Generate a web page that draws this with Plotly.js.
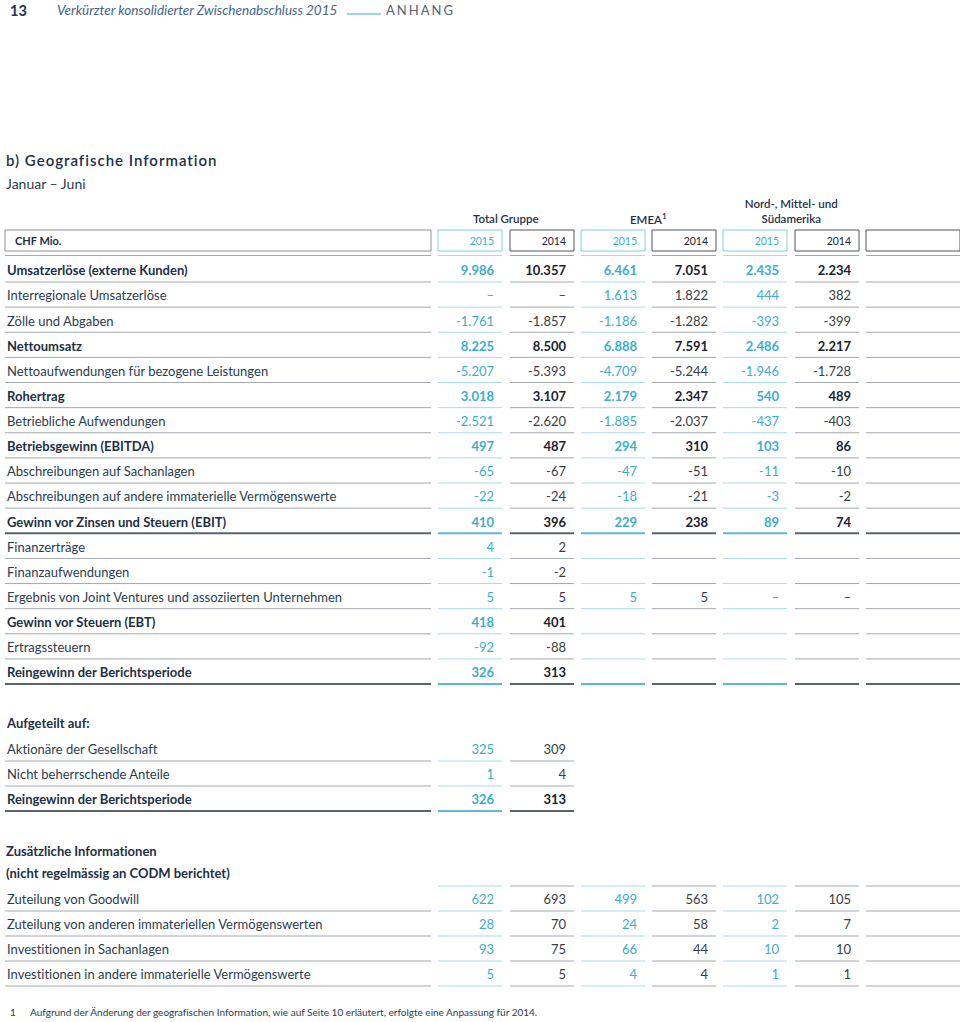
<!DOCTYPE html>
<html><head><meta charset="utf-8">
<script src="https://cdn.plot.ly/plotly-3.0.1.min.js"></script>
<style>html,body{margin:0;padding:0;background:#fff;} #chart{width:960px;height:1022px;}
.main-svg text{font-variant-ligatures:none;font-feature-settings:"liga" 0,"clig" 0;}</style>
</head><body><div id="chart"></div>
<script>
// ---------------- DATA ----------------
const yearLabels = ["2015", "2014", "2015", "2014", "2015", "2014"];
const groupLabels = ["Total Gruppe", "EMEA<sup>1</sup>", "Nord-, Mittel- und<br>Südamerika"];

const labelsMain = [
  "Umsatzerlöse (externe Kunden)", "Interregionale Umsatzerlöse", "Zölle und Abgaben", "Nettoumsatz",
  "Nettoaufwendungen für bezogene Leistungen", "Rohertrag", "Betriebliche Aufwendungen",
  "Betriebsgewinn (EBITDA)", "Abschreibungen auf Sachanlagen",
  "Abschreibungen auf andere immaterielle Vermögenswerte", "Gewinn vor Zinsen und Steuern (EBIT)",
  "Finanzerträge", "Finanzaufwendungen", "Ergebnis von Joint Ventures und assoziierten Unternehmen",
  "Gewinn vor Steuern (EBT)", "Ertragssteuern", "Reingewinn der Berichtsperiode"
];
const boldMain = [1, 0, 0, 1, 0, 1, 0, 1, 0, 0, 1, 0, 0, 0, 1, 0, 1];
const total2015 = [9986, 0, -1761, 8225, -5207, 3018, -2521, 497, -65, -22, 410, 4, -1, 5, 418, -92, 326];
const total2014 = [10357, 0, -1857, 8500, -5393, 3107, -2620, 487, -67, -24, 396, 2, -2, 5, 401, -88, 313];
const emea2015 = [6461, 1613, -1186, 6888, -4709, 2179, -1885, 294, -47, -18, 229, null, null, 5, null, null, null];
const emea2014 = [7051, 1822, -1282, 7591, -5244, 2347, -2037, 310, -51, -21, 238, null, null, 5, null, null, null];
const amer2015 = [2435, 444, -393, 2486, -1946, 540, -437, 103, -11, -3, 89, null, null, 0, null, null, null];
const amer2014 = [2234, 382, -399, 2217, -1728, 489, -403, 86, -10, -2, 74, null, null, 0, null, null, null];

const labelsAlloc = ["Aktionäre der Gesellschaft", "Nicht beherrschende Anteile", "Reingewinn der Berichtsperiode"];
const boldAlloc = [0, 0, 1];
const alloc2015 = [325, 1, 326];
const alloc2014 = [309, 4, 313];

const labelsAdd = [
  "Zuteilung von Goodwill", "Zuteilung von anderen immateriellen Vermögenswerten",
  "Investitionen in Sachanlagen", "Investitionen in andere immaterielle Vermögenswerte"
];
const boldAdd = [0, 0, 0, 0];
const addTotal2015 = [622, 28, 93, 5];
const addTotal2014 = [693, 70, 75, 5];
const addEmea2015 = [499, 24, 66, 4];
const addEmea2014 = [563, 58, 44, 4];
const addAmer2015 = [102, 2, 10, 1];
const addAmer2014 = [105, 7, 10, 1];

// ---------------- STYLE / LAYOUT CONSTANTS ----------------
const FONT = "Lato, 'Open Sans', sans-serif";
const NAVY = "#1e2f46", NAVY_R = "#2c3c50";
const CYAN = "#3aaecd";
const DARK_B = "#1a2331", DARK_R = "#3a3e44";
const RULE_CYAN = "#a9dae6", RULE_GRAY = "#a3a8ad";
const THICK_CYAN = "#5cbad4", THICK_GRAY = "#5b646e";
const COL_LEFT = [438, 510, 581, 652, 723, 795, 866];
const COL_W = 64;
const LAST_RIGHT = 960;
const LABEL_L = 5, LABEL_R = 431;
const PAD = 8;
const TEXT_DY = 2;
const thickRows = ["Gewinn vor Zinsen und Steuern (EBIT)", "Reingewinn der Berichtsperiode"];

const colRight = c => (c === 6 ? LAST_RIGHT : COL_LEFT[c] + COL_W);
const isCyanCol = c => c < 6 && c % 2 === 0;

function fmt(v) {
  if (v === null || v === undefined) return "";
  if (v === 0) return "–";
  const s = Math.abs(v).toString().replace(/\B(?=(\d{3})+(?!\d))/g, ".");
  return (v < 0 ? "-" : "") + s;
}

const traces = [];
const shapes = [];
const annotations = [];

function addText(xs, ys, texts, color, size, weight, pos) {
  if (!xs.length) return;
  traces.push({
    type: "scatter", mode: "text", x: xs, y: ys.map(y => y + TEXT_DY), text: texts,
    textposition: pos, cliponaxis: false, hoverinfo: "skip", showlegend: false,
    textfont: { family: FONT, size: size, color: color, weight: weight }
  });
}
function hline(x0, x1, y, color, width) {
  shapes.push({ type: "line", xref: "x", yref: "y", x0: x0, x1: x1, y0: y, y1: y,
    line: { color: color, width: width } });
}
function rect(x0, x1, y0, y1, color) {
  shapes.push({ type: "rect", xref: "x", yref: "y", x0: x0, x1: x1, y0: y0, y1: y1,
    line: { color: color, width: 1 }, fillcolor: "rgba(0,0,0,0)" });
}
function ann(x, y, text, size, color, weight, xanchor, extra) {
  annotations.push(Object.assign({ xref: "x", yref: "y", x: x, y: y, text: text, showarrow: false,
    xanchor: xanchor || "left", yanchor: "middle", borderpad: 0,
    font: { family: FONT, size: size, color: color, weight: weight || "normal" } }, extra || {}));
}

function buildSection(labels, bold, cols, y0, pitch, nRuleCols, topRule) {
  const ys = labels.map((_, i) => y0 + i * pitch);
  [0, 1].forEach(b => {
    const idx = labels.map((_, i) => i).filter(i => bold[i] === b);
    addText(idx.map(() => LABEL_L + 2), idx.map(i => ys[i]), idx.map(i => labels[i]),
      b ? NAVY : NAVY_R, 13, b ? "bold" : "normal", "middle right");
  });
  cols.forEach((vals, c) => {
    [0, 1].forEach(b => {
      const idx = vals.map((_, i) => i).filter(i => bold[i] === b && vals[i] !== null);
      const color = isCyanCol(c) ? CYAN : (b ? DARK_B : DARK_R);
      addText(idx.map(() => colRight(c) - PAD), idx.map(i => ys[i]), idx.map(i => fmt(vals[i])),
        color, 13, b ? "bold" : "normal", "middle left");
    });
  });
  ys.forEach((y, i) => {
    const thick = thickRows.includes(labels[i]);
    hline(LABEL_L, LABEL_R, y + 12, thick ? THICK_GRAY : RULE_GRAY, thick ? 2 : 1);
    for (let c = 0; c < nRuleCols; c++) {
      const col = isCyanCol(c) ? (thick ? THICK_CYAN : RULE_CYAN) : (thick ? THICK_GRAY : RULE_GRAY);
      hline(COL_LEFT[c], colRight(c), y + 12, col, thick ? 2 : 1);
    }
  });
  if (topRule) {
    for (let c = 0; c < nRuleCols; c++) {
      hline(COL_LEFT[c], colRight(c), ys[0] - 13, isCyanCol(c) ? RULE_CYAN : RULE_GRAY, 1);
    }
  }
}

// Header row (boxes)
const HEAD_Y = 240.5;
rect(LABEL_L, LABEL_R, 230, 251, "#8b9299");
hline(LABEL_L, LABEL_R, 255.5, RULE_GRAY, 1);
for (let c = 0; c < 7; c++) {
  rect(COL_LEFT[c], colRight(c), 230, 251, isCyanCol(c) ? "#84cadc" : "#4f5760");
  hline(COL_LEFT[c], colRight(c), 255.5, isCyanCol(c) ? RULE_CYAN : RULE_GRAY, 1);
}
const evenC = yearLabels.map((_, c) => c).filter(c => c % 2 === 0);
const oddC = yearLabels.map((_, c) => c).filter(c => c % 2 === 1);
addText(evenC.map(c => colRight(c) - PAD), evenC.map(() => HEAD_Y), evenC.map(c => yearLabels[c]),
  CYAN, 10.5, "normal", "middle left");
addText(oddC.map(c => colRight(c) - PAD), oddC.map(() => HEAD_Y), oddC.map(c => yearLabels[c]),
  DARK_B, 10.5, "normal", "middle left");
ann(14, HEAD_Y, "CHF Mio.", 11, NAVY, "bold");

ann((COL_LEFT[0] + colRight(1)) / 2, 218, groupLabels[0], 11.5, NAVY, "600", "center");
ann((COL_LEFT[2] + colRight(3)) / 2, 218, groupLabels[1], 11.5, NAVY, "600", "center");
ann((COL_LEFT[4] + colRight(5)) / 2, 210.5, groupLabels[2], 11.5, NAVY, "600", "center");

buildSection(labelsMain, boldMain, [total2015, total2014, emea2015, emea2014, amer2015, amer2014], 270, 25.13, 7, false);

ann(LABEL_L, 723, "Aufgeteilt auf:", 13, NAVY, "bold");
buildSection(labelsAlloc, boldAlloc, [alloc2015, alloc2014], 749, 25, 2, false);

ann(LABEL_L, 851, "Zusätzliche Informationen", 13, NAVY, "bold");
ann(LABEL_L, 873, "(nicht regelmässig an CODM berichtet)", 13, NAVY, "bold");
buildSection(labelsAdd, boldAdd, [addTotal2015, addTotal2014, addEmea2015, addEmea2014, addAmer2015, addAmer2014], 899, 25, 7, true);

// Page header & titles
ann(9, 10, "13", 14.5, "#1c3452", "bold");
ann(56, 10, "<i>Verkürzter konsolidierter Zwischenabschluss 2015</i>", 13.5, "#44658c", "normal");
hline(347, 381, 14, "#7cc5da", 1.5);
ann(385, 10, "ANHANG", 13, "#56626e", "normal");
ann(5, 160, "b) Geografische Information", 15, NAVY, "600");
ann(5, 183, "Januar – Juni", 14, NAVY_R, "normal");
ann(9, 1012, "1", 10, NAVY_R, "normal");
ann(29, 1012, "Aufgrund der Änderung der geografischen Information, wie auf Seite 10 erläutert, erfolgte eine Anpassung für 2014.", 10, NAVY_R, "normal");

const layout = {
  width: 960, height: 1022,
  margin: { l: 0, r: 0, t: 0, b: 0 },
  paper_bgcolor: "#ffffff", plot_bgcolor: "#ffffff",
  xaxis: { range: [0, 960], visible: false, fixedrange: true },
  yaxis: { range: [1022, 0], visible: false, fixedrange: true },
  shapes: shapes, annotations: annotations, showlegend: false
};

function spaceOut(t, spacing) {
  const before = t.getBBox();
  t.style.letterSpacing = spacing;
  const after = t.getBBox();
  const dx = before.x - after.x;
  const x0 = parseFloat(t.getAttribute("x") || "0");
  t.setAttribute("x", x0 + dx);
  t.querySelectorAll("tspan[x]").forEach(ts => {
    ts.setAttribute("x", parseFloat(ts.getAttribute("x")) + dx);
  });
}

Plotly.newPlot("chart", traces, layout, { staticPlot: true, displayModeBar: false }).then(() => {
  document.querySelectorAll(".main-svg text").forEach(t => {
    const s = t.textContent;
    if (s === "ANHANG") spaceOut(t, "2px");
    else if (s.indexOf("b) Geografische") === 0) spaceOut(t, "1px");
  });
});
</script>
</body></html>
